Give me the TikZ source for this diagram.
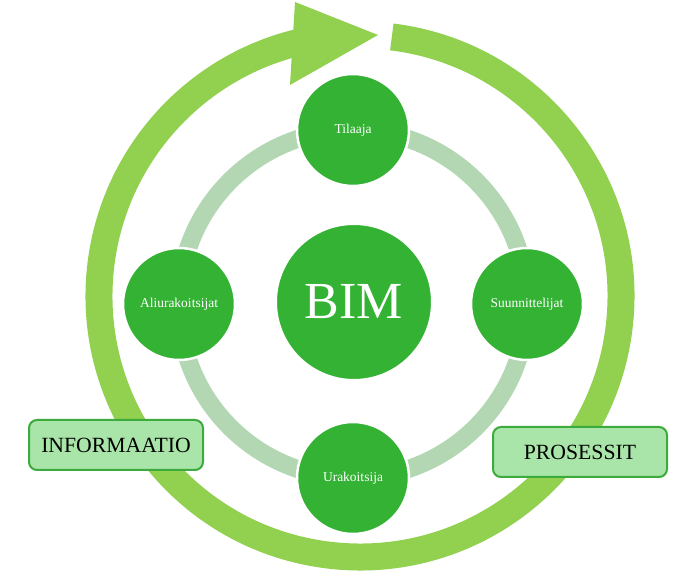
\documentclass[tikz,border=0pt]{standalone}
\usepackage{fontspec}
\setmainfont{Liberation Serif}
\definecolor{ringgreen}{HTML}{92D050}
\definecolor{nodegreen}{HTML}{34B234}
\definecolor{palering}{HTML}{B3D7B3}
\definecolor{boxfill}{HTML}{A9E5A9}
\definecolor{boxline}{HTML}{3CAA3C}
\begin{document}
\begin{tikzpicture}[x=1pt,y=1pt,
  actor/.style={circle,fill=nodegreen,draw=white,line width=2.5pt,minimum size=112pt,inner sep=0pt,
    text=white,font=\fontsize{13.5}{15}\selectfont},
  core/.style={circle,fill=nodegreen,draw=white,line width=2pt,minimum size=156pt,inner sep=0pt,
    text=white,font=\fontsize{52}{56}\selectfont},
  tagbox/.style={rectangle,rounded corners=8pt,fill=boxfill,draw=boxline,line width=2pt,
    minimum width=174pt,minimum height=50pt,inner sep=0pt,font=\fontsize{21.7}{24}\selectfont}
]
\useasboundingbox (0,0) rectangle (678,583);
% outer cycle ring
\coordinate (O) at (360,287);
\draw[ringgreen,line width=27pt] ([shift={(83:261)}]O) arc[start angle=83,end angle=-256.5,radius=261];
\coordinate (h1) at (295,581);
\coordinate (h2) at (378,548);
\coordinate (h3) at (290,498);
\fill[ringgreen] (h1) -- (h2) -- (h3) -- cycle;
% inner ring
\coordinate (C) at (353,279);
\draw[palering,line width=18pt] (C) circle[radius=174];
% nodes
\node[core] (bim) at (354,281) {BIM};
\node[actor] (tilaaja) at (353,453) {Tilaaja};
\node[actor] (suun) at (527,279) {Suunnittelijat};
\node[actor] (ura) at (353,105) {Urakoitsija};
\node[actor] (ali) at (179,279) {Aliurakoitsijat};
% labels
\node[tagbox] (info) at (116,138) {INFORMAATIO};
\node[tagbox] (pros) at (580,131) {PROSESSIT};
\end{tikzpicture}
\end{document}
